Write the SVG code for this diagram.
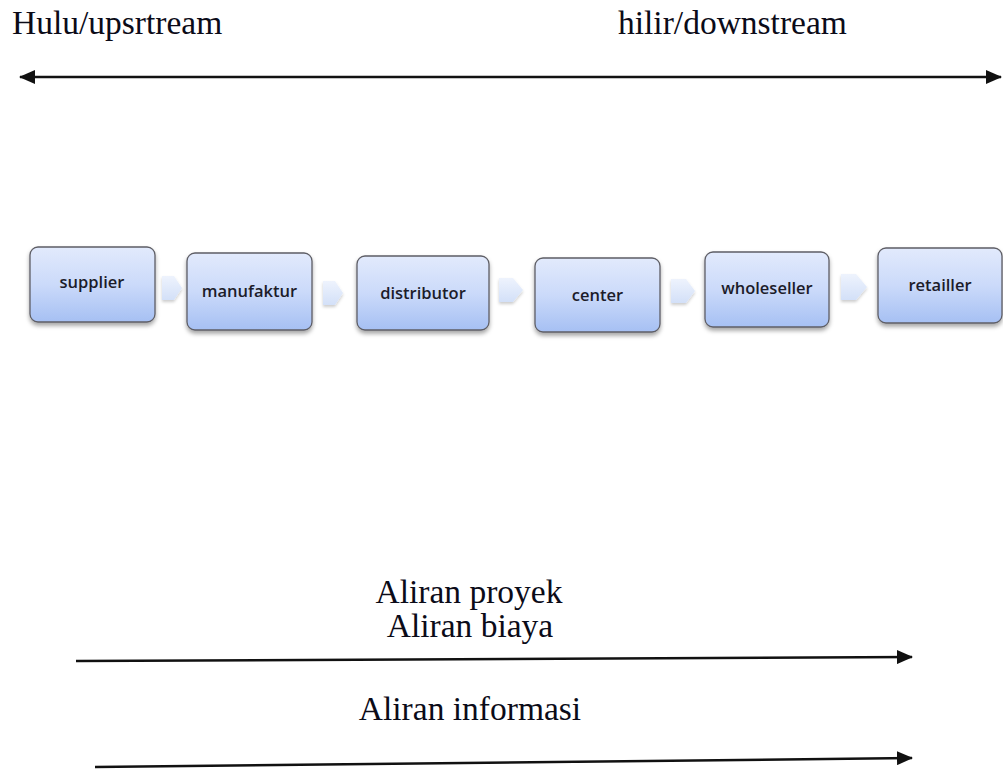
<svg xmlns="http://www.w3.org/2000/svg" width="1003" height="769" viewBox="0 0 1003 769">
<style>
.big{font-family:"Liberation Serif","Times New Roman",serif;font-size:33.5px;fill:#0b0b18}
.lbl{font-family:"Open Sans","Liberation Sans",sans-serif;font-size:16.5px;font-weight:600;fill:#1c1c2a;text-anchor:middle}
.box{fill:url(#gBox);stroke:#5e5e66;stroke-width:1.3;filter:url(#sh)}
.chev{fill:url(#gChev);filter:url(#sh2)}
.ln{stroke:#111;stroke-width:2.5;fill:none}
</style>
<defs>
<linearGradient id="gBox" x1="0" y1="0" x2="0" y2="1">
<stop offset="0" stop-color="#e2eafc"/>
<stop offset="0.5" stop-color="#cbdafa"/>
<stop offset="1" stop-color="#a6c0f3"/>
</linearGradient>
<linearGradient id="gChev" x1="0" y1="0" x2="0" y2="1">
<stop offset="0" stop-color="#eef3fd"/>
<stop offset="1" stop-color="#d3e0f8"/>
</linearGradient>
<filter id="sh" x="-10%" y="-10%" width="120%" height="130%">
<feDropShadow dx="0" dy="3" stdDeviation="2" flood-color="#000" flood-opacity="0.35"/>
</filter>
<filter id="sh2" x="-20%" y="-20%" width="140%" height="150%">
<feDropShadow dx="0" dy="2" stdDeviation="1.5" flood-color="#000" flood-opacity="0.2"/>
</filter>
<marker id="ah" viewBox="0 0 16 14" markerWidth="16" markerHeight="14" refX="15" refY="7" orient="auto-start-reverse" markerUnits="userSpaceOnUse">
<path d="M0,0 L16,7 L0,14 z" fill="#111"/>
</marker>
</defs>
<rect width="1003" height="769" fill="#fff"/>
<text class="big" x="12" y="34">Hulu/upsrtream</text>
<text class="big" x="618" y="34">hilir/downstream</text>
<g id="connectors">
<line class="ln" x1="20" y1="77" x2="1001" y2="77" marker-start="url(#ah)" marker-end="url(#ah)"/>
<line class="ln" x1="76" y1="661" x2="912" y2="657" marker-end="url(#ah)"/>
<line class="ln" x1="95" y1="767" x2="912" y2="758" marker-end="url(#ah)"/>
<path class="chev" d="M162,276 H174 L182,288 L174,300 H162 Z"/>
<path class="chev" d="M323,281 H335 L343,293 L335,305 H323 Z"/>
<path class="chev" d="M499,278 H513 L523,290 L513,302 H499 Z"/>
<path class="chev" d="M671,279 H686 L695,291 L686,303 H671 Z"/>
<path class="chev" d="M841,274 H856 L867,287 L856,300 H841 Z"/>
</g>
<g id="supplier"><rect class="box" x="30" y="247" width="125" height="75" rx="8"/><text class="lbl" x="92" y="288">supplier</text></g>
<g id="manufaktur"><rect class="box" x="187" y="253" width="125" height="77" rx="8"/><text class="lbl" x="249.5" y="297">manufaktur</text></g>
<g id="distributor"><rect class="box" x="357" y="256" width="132" height="74" rx="8"/><text class="lbl" x="423" y="299">distributor</text></g>
<g id="center"><rect class="box" x="535" y="258" width="125" height="74" rx="8"/><text class="lbl" x="597.5" y="301">center</text></g>
<g id="wholeseller"><rect class="box" x="705" y="252" width="124" height="75" rx="8"/><text class="lbl" x="767" y="294">wholeseller</text></g>
<g id="retailler"><rect class="box" x="878" y="248" width="124" height="75" rx="8"/><text class="lbl" x="940" y="291">retailler</text></g>
<text class="big" x="469" y="603" text-anchor="middle">Aliran proyek</text>
<text class="big" x="470" y="637" text-anchor="middle">Aliran biaya</text>
<text class="big" x="470" y="720" text-anchor="middle">Aliran informasi</text>
</svg>
